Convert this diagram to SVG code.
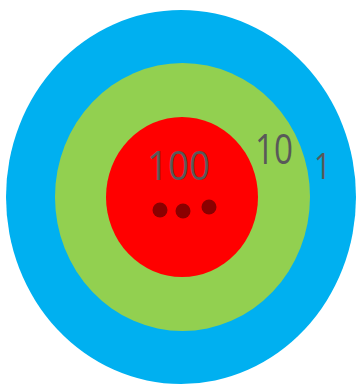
<svg xmlns="http://www.w3.org/2000/svg" width="359" height="385" viewBox="0 0 359 385">
<style>
.lbl{font-family:"Open Sans","Liberation Sans",sans-serif;font-weight:400;fill:#595959}
.dot{fill:#8a0000}
</style>
<rect width="359" height="385" fill="#ffffff"/>
<g id="ring-1"><ellipse cx="181" cy="197" rx="175" ry="187" fill="#00b0f0"/></g>
<g id="ring-10"><ellipse cx="182.5" cy="197" rx="127.5" ry="134" fill="#92d050"/></g>
<g id="ring-100"><ellipse cx="182" cy="197" rx="76" ry="80" fill="#ff0000"/></g>
<g id="labels">
<text class="lbl" x="147" y="180" font-size="41" textLength="63" lengthAdjust="spacingAndGlyphs">100</text>
<text class="lbl" x="255" y="164" font-size="42" textLength="38" lengthAdjust="spacingAndGlyphs">10</text>
<text class="lbl" x="314" y="179" font-size="37" textLength="17" lengthAdjust="spacingAndGlyphs">1</text>
</g>
<g id="dots">
<circle class="dot" cx="160" cy="210" r="7.5"/>
<circle class="dot" cx="183" cy="211" r="7.5"/>
<circle class="dot" cx="209" cy="207" r="7.5"/>
</g>
</svg>
